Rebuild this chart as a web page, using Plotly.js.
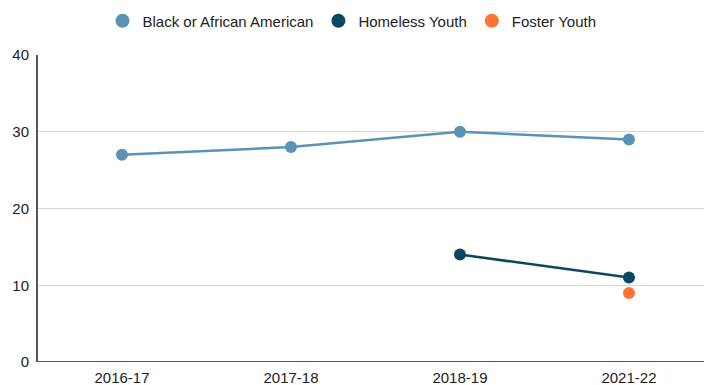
<!DOCTYPE html>
<html>
<head>
<meta charset="utf-8">
<script src="https://cdn.plot.ly/plotly-3.0.1.min.js"></script>
<style>html,body{margin:0;padding:0;background:#fff;}#chart{width:704px;height:385px;}</style>
</head>
<body>
<div id="chart"></div>
<script>
const categories = ["2016-17", "2017-18", "2018-19", "2021-22"];
const blackAfricanAmerican = [27, 28, 30, 29];
const homelessYouth = [null, null, 14, 11];
const fosterYouth = [null, null, null, 9];
const seriesNames = ["Black or African American", "Homeless Youth", "Foster Youth"];
const seriesColors = ["#5a94b4", "#0b4761", "#ff7433"];
const yTicks = [0, 10, 20, 30, 40];

const seriesData = [blackAfricanAmerican, homelessYouth, fosterYouth];
const traces = [];
seriesData.forEach((vals, i) => {
  traces.push({
    x: categories, y: vals, type: "scatter", mode: "lines+markers",
    name: seriesNames[i], showlegend: false, connectgaps: false,
    line: {color: seriesColors[i], width: 2.5},
    marker: {color: seriesColors[i], size: 12},
    hoverinfo: "skip"
  });
});
seriesData.forEach((vals, i) => {
  traces.push({
    x: [null], y: [null], type: "scatter", mode: "markers",
    name: seriesNames[i], showlegend: true,
    marker: {color: seriesColors[i], size: 14}
  });
});

const FONT = "'Liberation Sans', Arial, sans-serif";
const layout = {
  width: 704, height: 385,
  margin: {l: 38, r: 0, t: 55, b: 23},
  paper_bgcolor: "#fff", plot_bgcolor: "#fff",
  font: {family: FONT, size: 15, color: "#222"},
  showlegend: true,
  legend: {orientation: "h", x: 0.5, xref: "container", xanchor: "center",
           y: 1 - 21 / 385, yref: "container", yanchor: "middle",
           font: {family: FONT, size: 15, color: "#222"}, itemwidth: 30, tracegroupgap: 0},
  xaxis: {type: "category", categoryarray: categories, range: [-0.497, 3.444],
          showgrid: false, zeroline: false, showline: false, ticks: "", fixedrange: true,
          ticklabelstandoff: 5,
          tickfont: {family: FONT, size: 15, color: "#222"}},
  yaxis: {range: [0, 40], tickvals: yTicks, ticktext: yTicks.map(String),
          showgrid: true, gridcolor: "#d6d6d6", gridwidth: 1, zeroline: false,
          showline: true, linecolor: "#555", linewidth: 2, ticks: "",
          ticklabelstandoff: 4, tickfont: {family: FONT, size: 15, color: "#222"}, fixedrange: true},
  shapes: [{type: "line", xref: "paper", yref: "y", x0: 0, x1: 1, y0: 0, y1: 0,
            line: {color: "#555", width: 2}}]
};
Plotly.newPlot("chart", traces, layout, {displayModeBar: false, staticPlot: true});
</script>
</body>
</html>
